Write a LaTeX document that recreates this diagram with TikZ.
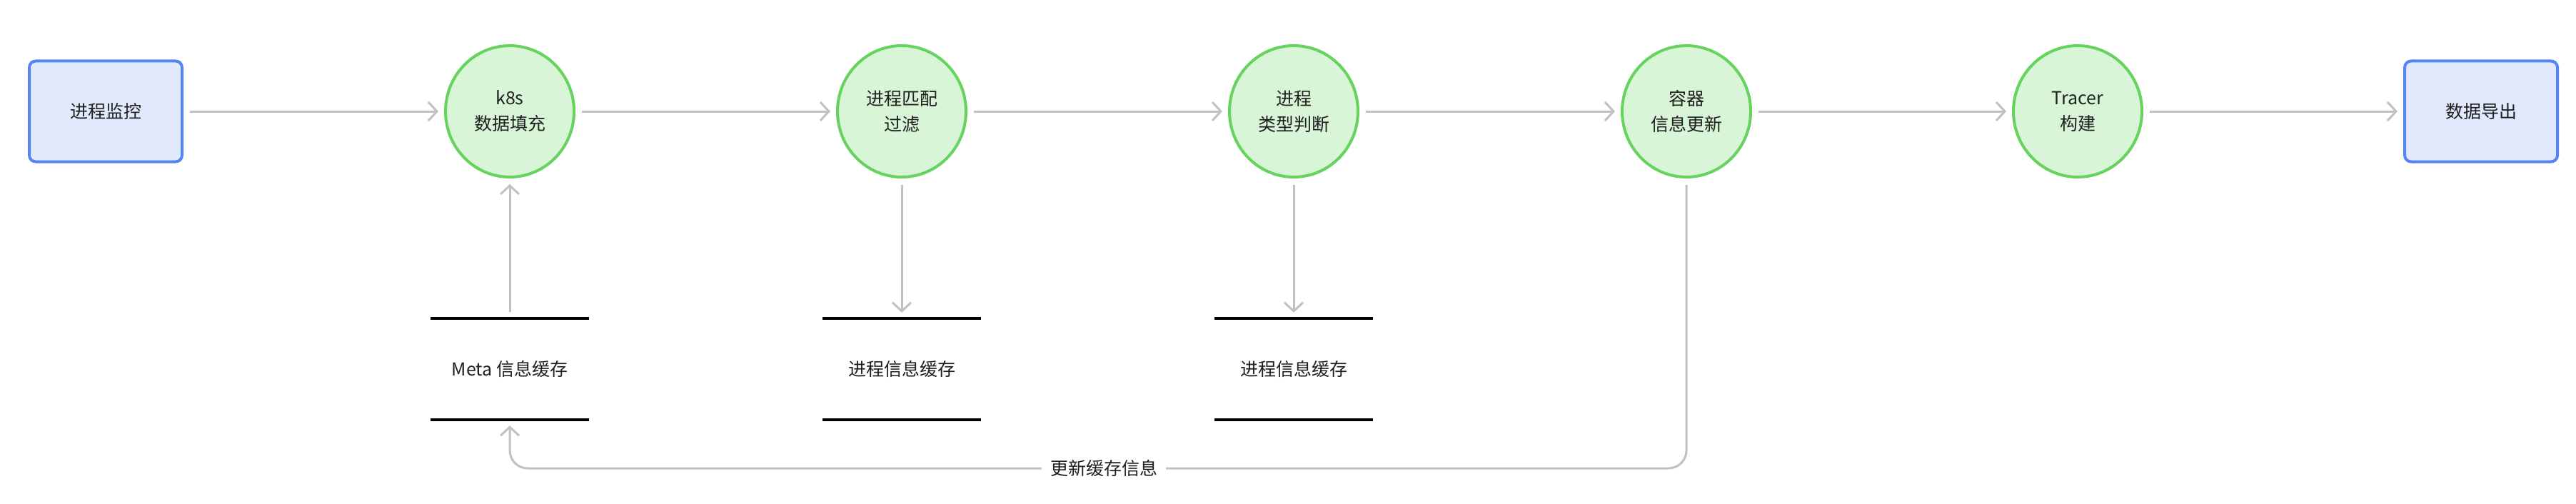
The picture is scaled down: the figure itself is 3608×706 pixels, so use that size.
\documentclass[tikz,border=0pt]{standalone}
\usepackage{fontspec}
\setmainfont{Noto Sans CJK SC}
\usetikzlibrary{arrows.meta,shapes.geometric}
\definecolor{boxfill}{HTML}{E1E9FC}
\definecolor{boxline}{HTML}{5585F5}
\definecolor{ellfill}{HTML}{D9F5D7}
\definecolor{ellline}{HTML}{66D35E}
\definecolor{flowgray}{HTML}{BEC1C6}
\definecolor{txt}{HTML}{1F1F1F}
\tikzset{
  endbox/.style={draw=boxline, fill=boxfill, line width=4pt, rounded corners=9pt,
    minimum width=214pt, minimum height=141pt, text=txt, font=\fontsize{25}{36}\selectfont},
  proc/.style={ellipse, draw=ellline, fill=ellfill, line width=4pt,
    minimum width=180pt, minimum height=184pt, inner sep=0pt, align=center,
    text=txt, font=\fontsize{25}{36}\selectfont},
  store/.style={minimum width=221pt, minimum height=142pt, inner sep=0pt,
    text=txt, font=\fontsize{25}{36}\selectfont},
  storeline/.style={line width=4pt, black},
  flow/.style={draw=flowgray, line width=3pt,
    -{Straight Barb[length=12pt,width=26pt,line width=3pt]},
    shorten <=9pt, shorten >=8pt},
  flowlabel/.style={fill=white, inner sep=12pt, text=txt, font=\fontsize{25}{36}\selectfont}
}
\begin{document}
\begin{tikzpicture}[x=1pt,y=-1pt]
\useasboundingbox (0,0) rectangle (3608,706);
\fill[white] (0,0) rectangle (3608,706);
% main nodes
\node[endbox] (mon) at (148,156) {进程监控};
\node[proc] (k8s) at (714,156) {k8s\\数据填充};
\node[proc] (flt) at (1263,156) {进程匹配\\过滤};
\node[proc] (typ) at (1812,156) {进程\\类型判断};
\node[proc] (ctr) at (2362,156) {容器\\信息更新};
\node[proc] (trc) at (2910,156) {Tracer\\构建};
\node[endbox] (exp) at (3475,156) {数据导出};
% stores
\node[store] (s1) at (714,517) {Meta 信息缓存};
\node[store] (s2) at (1263,517) {进程信息缓存};
\node[store] (s3) at (1812,517) {进程信息缓存};
\foreach \s in {s1,s2,s3}{
  \draw[storeline] (\s.north west) -- (\s.north east);
  \draw[storeline] (\s.south west) -- (\s.south east);
}
% main flow
\draw[flow] (mon) -- (k8s);
\draw[flow] (k8s) -- (flt);
\draw[flow] (flt) -- (typ);
\draw[flow] (typ) -- (ctr);
\draw[flow] (ctr) -- (trc);
\draw[flow] (trc) -- (exp);
% store links
\draw[flow] (s1.north) -- (k8s.south);
\draw[flow] (flt.south) -- (s2.north);
\draw[flow] (typ.south) -- (s3.north);
% return path
\coordinate (r1) at (2362,656);
\coordinate (r2) at (714,656);
\draw[flow, rounded corners=25pt] (ctr.south) -- (r1) -- (r2) -- (s1.south);
\node[flowlabel] (lbl) at (1546,656) {更新缓存信息};
\end{tikzpicture}
\end{document}
